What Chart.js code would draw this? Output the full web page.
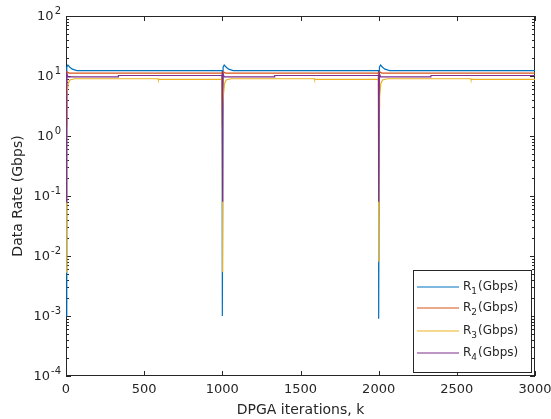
<!DOCTYPE html>
<html>
<head>
<meta charset="utf-8">
<script src="https://cdn.jsdelivr.net/npm/chart.js@4.4.0/dist/chart.umd.min.js"></script>
<style>
  html, body { margin: 0; padding: 0; background: #fff; }
  canvas { display: block; }
</style>
</head>
<body>
<canvas id="grafico" width="551" height="419"></canvas>
<script>
// Dados (iteração k, taxa em Gbps)
const iterR1 = [0, 5, 12, 25, 40, 70, 999, 1000, 1005, 1012, 1025, 1040, 1070, 1999, 2000, 2005, 2012, 2025, 2040, 2070, 3000]
const rateR1 = [0.001, 14, 15.2, 14, 13, 12.3, 12.3, 0.001, 14, 15.2, 14, 13, 12.3, 12.3, 0.0009, 14, 15.2, 14, 13, 12.3, 12.3]

const iterR2 = [0, 5, 20, 999, 1000, 1005, 1020, 1999, 2000, 2005, 2020, 3000]
const rateR2 = [1.5, 11.8, 11.2, 11.2, 1.5, 11.8, 11.2, 11.2, 1.5, 11.8, 11.2, 11.2]

const iterR3 = [0, 3, 6, 14, 25, 55, 589, 590, 999, 1000, 1003, 1006, 1014, 1025, 1055, 1589, 1590, 1999, 2000, 2003, 2006, 2014, 2025, 2055, 2589, 2590, 3000]
const rateR3 = [0.0054, 3.0, 4.5, 7.5, 8.6, 9.0, 9.0, 8.8, 8.8, 0.0054, 3.0, 4.5, 7.5, 8.6, 9.0, 9.0, 8.8, 8.8, 0.008, 3.0, 4.5, 7.5, 8.6, 9.0, 9.0, 8.8, 8.8]

const iterR4 = [0, 4, 12, 334, 335, 999, 1000, 1004, 1012, 1334, 1335, 1999, 2000, 2004, 2012, 2334, 2335, 3000]
const rateR4 = [0.08, 11, 9.7, 9.7, 10.2, 10.2, 0.08, 11, 9.7, 9.7, 10.2, 10.2, 0.08, 11, 9.7, 9.7, 10.2, 10.2]

const xTicks = [0, 500, 1000, 1500, 2000, 2500, 3000]
const yExpoentes = [-4, -3, -2, -1, 0, 1, 2]
const nomes = ['R₁(Gbps)', 'R₂(Gbps)', 'R₃(Gbps)', 'R₄(Gbps)']
const cores = ['#0072BD', '#D95319', '#EDB120', '#7E2F8E']

const FONTE = '"DejaVu Sans", sans-serif'
const series = [[iterR1, rateR1], [iterR2, rateR2], [iterR3, rateR3], [iterR4, rateR4]]

// Caixa e marcas dos eixos (por baixo das linhas, como no MATLAB)
const eixos = {
    id: 'eixos',
    beforeDatasetsDraw(chart) {
        const { ctx, chartArea: a, scales: { x, y } } = chart
        ctx.save()
        ctx.strokeStyle = '#262626'
        ctx.lineWidth = 1
        ctx.strokeRect(a.left + 0.5, a.top + 0.5, a.right - a.left - 1, a.bottom - a.top - 1)
        ctx.beginPath()
        xTicks.forEach(v => {
            const px = Math.round(x.getPixelForValue(v)) + 0.5
            ctx.moveTo(px, a.bottom); ctx.lineTo(px, a.bottom - 5)
            ctx.moveTo(px, a.top); ctx.lineTo(px, a.top + 5)
        })
        for (let e = -4; e <= 2; e++) {
            for (let m = 1; m <= 9; m++) {
                if (e === 2 && m > 1) break
                const py = Math.round(y.getPixelForValue(m * Math.pow(10, e))) + 0.5
                const len = m === 1 ? 5 : 3
                ctx.moveTo(a.left, py); ctx.lineTo(a.left + len, py)
                ctx.moveTo(a.right, py); ctx.lineTo(a.right - len, py)
            }
        }
        ctx.stroke()
        ctx.restore()
    },
    afterDraw(chart) {
        const { ctx, scales: { y } } = chart
        ctx.save()
        // Rótulos do eixo y com expoente
        ctx.fillStyle = '#262626'
        ctx.textBaseline = 'middle'
        yExpoentes.forEach(e => {
            const py = y.getPixelForValue(Math.pow(10, e))
            ctx.font = '10px ' + FONTE
            const exp = String(e)
            const we = ctx.measureText(exp).width
            ctx.textAlign = 'left'
            ctx.fillText(exp, 61 - we, py - 5)
            ctx.font = '13px ' + FONTE
            ctx.textAlign = 'right'
            ctx.fillText('10', 60 - we, py + 1)
        })
        // Legenda dentro da área do gráfico
        const lx = 413, ly = 270, lw = 118, lh = 102
        ctx.fillStyle = '#fff'
        ctx.fillRect(lx, ly, lw, lh)
        ctx.strokeStyle = '#262626'
        ctx.lineWidth = 1
        ctx.strokeRect(lx + 0.5, ly + 0.5, lw, lh)
        const ys = [287, 308, 331, 353]
        nomes.forEach((nome, i) => {
            ctx.strokeStyle = cores[i]
            ctx.lineWidth = 1.2
            ctx.beginPath()
            ctx.moveTo(417, ys[i]); ctx.lineTo(459, ys[i])
            ctx.stroke()
            ctx.fillStyle = '#262626'
            ctx.textAlign = 'left'
            ctx.textBaseline = 'middle'
            ctx.font = '12px ' + FONTE
            ctx.fillText('R', 463, ys[i])
            const wr = ctx.measureText('R').width
            ctx.font = '9px ' + FONTE
            const sub = String(i + 1)
            ctx.fillText(sub, 463 + wr, ys[i] + 5)
            const ws = ctx.measureText(sub).width
            ctx.font = '12px ' + FONTE
            ctx.fillText('(Gbps)', 463 + wr + ws + 1, ys[i])
        })
        ctx.restore()
    }
}

const ctx = document.getElementById('grafico').getContext('2d')
const grafico = new Chart(ctx, {
    type: 'line',
    data: {
        datasets: series.map(([k, r], i) => ({
            label: nomes[i],
            data: k.map((v, j) => ({ x: v, y: r[j] })),
            borderColor: cores[i],
            backgroundColor: cores[i],
            borderWidth: 1.2,
            pointRadius: 0,
            tension: 0,
            fill: false,
            clip: false,
            order: 4 - i
        }))
    },
    options: {
        responsive: false,
        animation: false,
        layout: { padding: { top: 16, right: 16, left: 0, bottom: 0 } },
        plugins: { legend: { display: false }, tooltip: { enabled: false } },
        scales: {
            x: {
                type: 'linear',
                min: 0,
                max: 3000,
                grid: { display: false, drawTicks: false },
                border: { display: false },
                afterBuildTicks: s => { s.ticks = xTicks.map(v => ({ value: v })) },
                afterFit: s => {
                    s.height = 43
                    s.paddingLeft = 0
                    s.paddingRight = 0
                },
                ticks: {
                    color: '#262626',
                    font: { family: FONTE, size: 13 },
                    padding: 6,
                    maxRotation: 0,
                    autoSkip: false,
                    callback: v => String(v)
                },
                title: {
                    display: true,
                    text: 'DPGA iterations, k',
                    color: '#262626',
                    font: { family: FONTE, size: 14 },
                    padding: { top: 0, bottom: 0 }
                }
            },
            y: {
                type: 'logarithmic',
                min: 1e-4,
                max: 1e2,
                grid: { display: false, drawTicks: false },
                border: { display: false },
                ticks: { display: false },
                afterFit: s => {
                    s.width = 66
                    s.paddingTop = 0
                    s.paddingBottom = 0
                },
                title: {
                    display: true,
                    text: 'Data Rate (Gbps)',
                    color: '#262626',
                    font: { family: FONTE, size: 14 },
                    padding: { top: 10, bottom: 0 }
                }
            }
        }
    },
    plugins: [eixos]
})
</script>
</body>
</html>
